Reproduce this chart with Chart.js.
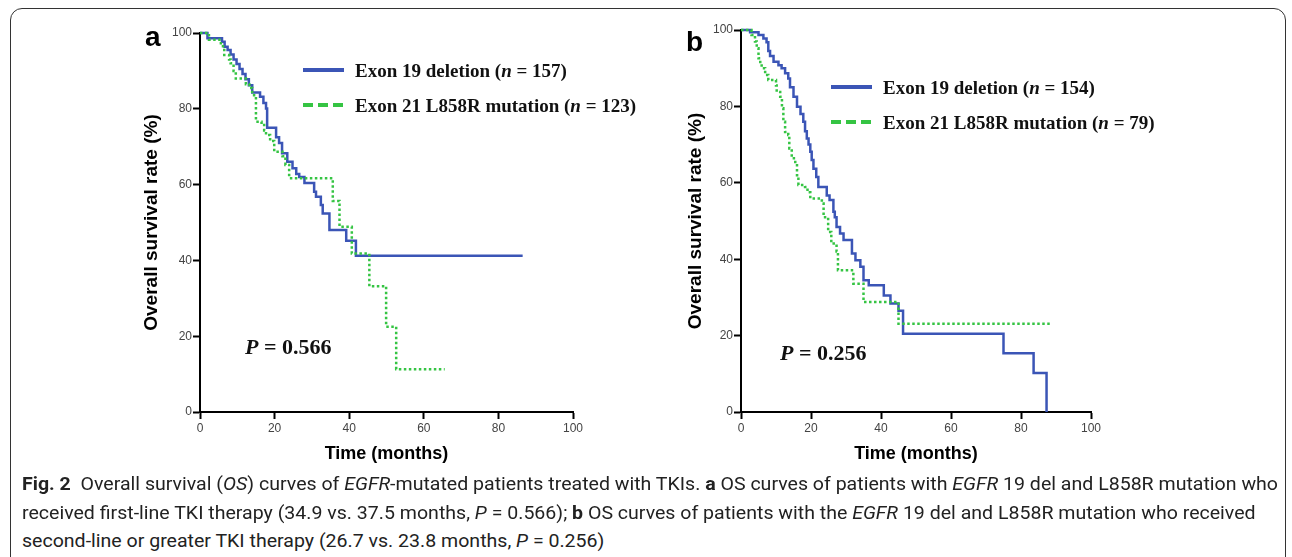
<!DOCTYPE html>
<html>
<head>
<meta charset="utf-8">
<script src="https://cdn.jsdelivr.net/npm/chart.js@4.4.1/dist/chart.umd.min.js"></script>
<style>
  body { margin: 0; width: 1292px; height: 557px; background: #fff; overflow: hidden; position: relative; font-family: "Liberation Sans", Arial, sans-serif; }
  .frame { position: absolute; left: 10px; top: 8px; width: 1274px; height: 620px; border: 1px solid #333; border-radius: 12px; }
  .box { position: absolute; }
  .lbl { position: absolute; font-weight: bold; font-family: "Liberation Sans", Arial, sans-serif; font-size: 28px; line-height: 28px; }
  .leg { position: absolute; font-family: "Liberation Serif", "Times New Roman", serif; font-weight: bold; font-size: 19px; line-height: 22px; white-space: nowrap; color: #111; }
  .pval { position: absolute; font-family: "Liberation Serif", "Times New Roman", serif; font-weight: bold; font-size: 22px; line-height: 24px; white-space: nowrap; color: #111; }
  .swatch { position: absolute; width: 41px; height: 4px; }
  .cap { position: absolute; left: 22px; font-family: "Liberation Sans Narrow", "Roboto", sans-serif; font-size: 18px; line-height: 20px; white-space: nowrap; color: #222; transform-origin: 0 50%; }
</style>
</head>
<body>
<div class="frame"></div>

<div class="box" style="left:120px; top:15px; width:470px; height:465px;"><canvas id="chartA"></canvas></div>
<div class="box" style="left:661px; top:15px; width:450px; height:465px;"><canvas id="chartB"></canvas></div>

<div class="lbl" style="left:145px; top:23px;">a</div>
<div class="lbl" style="left:686px; top:28px;">b</div>

<div class="swatch" style="left:303px; top:68px; background:#3b55b6;"></div>
<div class="leg" style="left:355px; top:60px;">Exon 19 deletion (<i>n</i> = 157)</div>
<div class="swatch" style="left:303px; top:103px; background:repeating-linear-gradient(to right,#35c443 0 10px,transparent 10px 15px);"></div>
<div class="leg" style="left:355px; top:95px;">Exon 21 L858R mutation (<i>n</i> = 123)</div>

<div class="swatch" style="left:831px; top:85px; background:#3b55b6;"></div>
<div class="leg" style="left:883px; top:77px;">Exon 19 deletion (<i>n</i> = 154)</div>
<div class="swatch" style="left:831px; top:120px; background:repeating-linear-gradient(to right,#35c443 0 10px,transparent 10px 15px);"></div>
<div class="leg" style="left:883px; top:112px;">Exon 21 L858R mutation (<i>n</i> = 79)</div>

<div class="pval" style="left:245px; top:335px;"><i>P</i> = 0.566</div>
<div class="pval" style="left:780px; top:341px;"><i>P</i> = 0.256</div>

<div class="cap" id="cap1" style="top:474px;"><b>Fig. 2</b>&nbsp; Overall survival (<i>OS</i>) curves of <i>EGFR</i>-mutated patients treated with TKIs. <b>a</b> OS curves of patients with <i>EGFR</i> 19 del and L858R mutation who</div>
<div class="cap" id="cap2" style="top:503px;">received first-line TKI therapy (34.9 vs. 37.5 months, <i>P</i> = 0.566); <b>b</b> OS curves of patients with the <i>EGFR</i> 19 del and L858R mutation who received</div>
<div class="cap" id="cap3" style="top:531px;">second-line or greater TKI therapy (26.7 vs. 23.8 months, <i>P</i> = 0.256)</div>

<script>
// panel a: first-line TKI
const monthsA19 = [0, 2.0, 5.9, 6.6, 7.4, 8.2, 9.0, 9.8, 10.6, 11.4, 12.2, 13.1, 14.0, 16.1, 17.0, 17.7, 18.0, 20.4, 21.2, 22.0, 23.4, 24.8, 25.8, 26.6, 28.0, 30.6, 31.1, 32.4, 32.9, 34.7, 39.2, 41.8, 86.5];
const survA19 = [100, 98.6, 97.7, 96.4, 95.5, 94.3, 93.0, 91.8, 90.5, 89.2, 87.8, 86.2, 84.3, 83.2, 81.5, 80.1, 75.0, 72.5, 71.0, 68.3, 66.0, 64.3, 62.8, 62.0, 60.4, 58.1, 56.8, 54.6, 52.4, 48.0, 45.2, 41.2, 41.2];
const monthsA21 = [0, 2.4, 5.6, 6.5, 7.8, 8.2, 9.0, 9.6, 12.3, 13.2, 14.0, 14.5, 15.0, 16.5, 17.2, 17.7, 18.8, 19.9, 22.1, 22.9, 23.9, 35.6, 37.4, 40.7, 45.4, 49.9, 52.6, 65.6];
const survA21 = [100, 98.2, 96.5, 94.2, 93.0, 92.0, 90.0, 88.0, 86.5, 85.5, 84.0, 83.2, 76.6, 75.7, 74.3, 73.1, 71.5, 68.7, 67.5, 65.2, 61.7, 55.7, 48.9, 41.8, 33.2, 22.5, 11.3, 11.3];

// panel b: second-line or greater TKI
const monthsB19 = [0, 2.6, 5.0, 6.4, 7.3, 7.8, 8.3, 9.3, 10.7, 11.6, 12.6, 13.5, 14.0, 15.0, 16.0, 17.0, 17.8, 18.3, 18.8, 19.3, 19.8, 20.2, 20.7, 21.5, 22.1, 24.5, 25.3, 26.4, 26.8, 27.3, 28.3, 29.3, 31.7, 32.7, 34.1, 35.0, 36.5, 40.8, 42.7, 45.0, 46.3, 75.0, 83.6, 87.3];
const survB19 = [100, 99.4, 98.7, 97.8, 96.8, 94.5, 93.2, 91.7, 90.8, 90.0, 88.7, 87.3, 85.0, 82.5, 79.9, 78.0, 76.0, 73.5, 71.6, 70.0, 68.1, 66.0, 63.7, 61.5, 58.9, 56.7, 55.5, 52.4, 51.0, 48.4, 46.7, 45.0, 41.5, 39.7, 38.0, 34.5, 33.2, 30.5, 28.4, 26.5, 20.5, 15.4, 10.2, 0];
const monthsB21 = [0, 3.0, 4.0, 4.5, 5.0, 5.5, 5.9, 6.9, 7.8, 10.0, 10.2, 11.2, 11.7, 12.1, 12.6, 13.5, 13.8, 14.5, 15.5, 16.0, 16.4, 18.3, 19.0, 19.8, 23.1, 23.6, 24.9, 25.8, 27.3, 27.7, 32.1, 35.0, 45.0, 88.5];
const survB21 = [100, 98.7, 97.0, 95.2, 92.6, 91.2, 90.0, 88.2, 86.9, 85.5, 83.8, 82.5, 79.5, 76.0, 73.3, 72.5, 69.0, 66.4, 64.6, 62.0, 59.4, 58.9, 57.5, 55.9, 54.6, 51.0, 47.1, 44.1, 42.0, 37.1, 33.6, 28.8, 23.1, 23.1];

const tickValues = [0, 20, 40, 60, 80, 100];
const seriesNames = ['Exon 19 deletion', 'Exon 21 L858R mutation'];
const blue = '#3b55b6';
const green = '#35c443';

const toPoints = (xs, ys) => xs.map((x, i) => ({ x: x, y: ys[i] }));

const makeChart = (id, del, l858, padRight, padTop, yTitlePad) => {
    const ctx = document.getElementById(id).getContext('2d');
    const axisText = { family: '"Liberation Sans", Arial, sans-serif', size: 12 };
    const titleFont = { family: '"Liberation Sans", Arial, sans-serif', size: 18, weight: 'bold' };
    return new Chart(ctx, {
        type: 'line',
        data: {
            datasets: [{
                label: seriesNames[1],
                data: l858,
                borderColor: green,
                borderWidth: 2.5,
                borderDash: [2.5, 2.5],
                stepped: 'before',
                pointRadius: 0,
                fill: false,
                clip: 4
            }, {
                label: seriesNames[0],
                data: del,
                borderColor: blue,
                borderWidth: 2.5,
                stepped: 'before',
                pointRadius: 0,
                fill: false,
                clip: 4
            }]
        },
        options: {
            responsive: true,
            maintainAspectRatio: false,
            animation: false,
            layout: { padding: { left: 0, right: padRight, top: padTop, bottom: 0 } },
            plugins: { legend: { display: false }, tooltip: { enabled: false } },
            scales: {
                x: {
                    type: 'linear',
                    min: 0,
                    max: 100,
                    afterBuildTicks: (s) => { s.ticks = tickValues.map(v => ({ value: v })); },
                    afterFit: (s) => { s.height = 68; },
                    grid: { drawOnChartArea: false, tickLength: 7, tickColor: '#000', tickWidth: 2 },
                    border: { color: '#000', width: 2 },
                    ticks: { font: axisText, color: '#444', padding: 2, maxRotation: 0 },
                    title: { display: true, text: 'Time (months)', font: titleFont, color: '#000', padding: { top: 0, bottom: 15 } }
                },
                y: {
                    min: 0,
                    max: 100,
                    afterBuildTicks: (s) => { s.ticks = tickValues.map(v => ({ value: v })); },
                    afterFit: (s) => { s.width = 80; },
                    grid: { drawOnChartArea: false, tickLength: 7, tickColor: '#000', tickWidth: 2 },
                    border: { color: '#000', width: 2 },
                    ticks: { font: axisText, color: '#444', padding: 1 },
                    title: { display: true, text: 'Overall survival rate (%)', font: { family: titleFont.family, size: 19, weight: 'bold' }, color: '#000', padding: { top: yTitlePad, bottom: 0 } }
                }
            }
        }
    });
};

makeChart('chartA', toPoints(monthsA19, survA19), toPoints(monthsA21, survA21), 17, 18, 20);
makeChart('chartB', toPoints(monthsB19, survB19), toPoints(monthsB21, survB21), 20, 15, 23);

// squeeze the caption to the width of its first line in the figure (one factor for all lines)
const capLines = document.querySelectorAll('.cap');
const capScale = 1256 / capLines[0].getBoundingClientRect().width;
capLines.forEach(el => { el.style.transform = 'scaleX(' + capScale + ')'; });
</script>
</body>
</html>
